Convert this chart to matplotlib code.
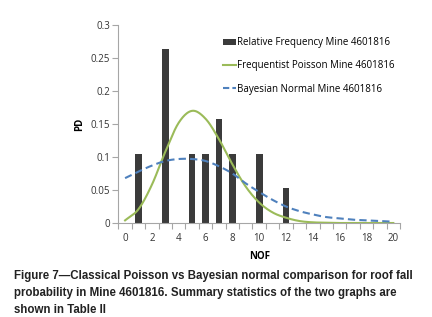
import numpy as np
import matplotlib
matplotlib.use('Agg')
import matplotlib.pyplot as plt
from matplotlib.patches import Patch
from matplotlib.lines import Line2D

# data
nof = list(range(0, 21))
rel_freq_x = [1, 3, 5, 6, 7, 8, 10, 12]
rel_freq = [0.105, 0.263, 0.105, 0.105, 0.158, 0.105, 0.105, 0.053]
poisson = [0.004, 0.021, 0.058, 0.108, 0.152, 0.170, 0.158, 0.127, 0.089, 0.055,
           0.031, 0.016, 0.008, 0.003, 0.001, 0.0005, 0.0, 0.0, 0.0, 0.0, 0.0]
bayes = [0.068, 0.078, 0.087, 0.094, 0.097, 0.097, 0.094, 0.086, 0.075, 0.060,
         0.047, 0.035, 0.025, 0.018, 0.013, 0.009, 0.007, 0.005, 0.004, 0.003, 0.002]
yticks = [0, 0.05, 0.1, 0.15, 0.2, 0.25, 0.3]
ytick_labels = ['0', '0.05', '0.1', '0.15', '0.2', '0.25', '0.3']
caption = ('Figure 7\u2014Classical Poisson vs Bayesian normal comparison for roof fall\n'
           'probability in Mine 4601816. Summary statistics of the two graphs are\n'
           'shown in Table II')


def smooth(x, y, n=20):
    # catmull-rom style smoothing like excel's smoothed line
    x = np.asarray(x, float)
    y = np.asarray(y, float)
    px = np.concatenate([[2*x[0]-x[1]], x, [2*x[-1]-x[-2]]])
    py = np.concatenate([[2*y[0]-y[1]], y, [2*y[-1]-y[-2]]])
    xs, ys = [], []
    t = np.linspace(0, 1, n, endpoint=False)
    for i in range(1, len(px)-2):
        for arr, out in ((px, xs), (py, ys)):
            p0, p1, p2, p3 = arr[i-1], arr[i], arr[i+1], arr[i+2]
            out.extend(0.5*((2*p1) + (-p0+p2)*t + (2*p0-5*p1+4*p2-p3)*t**2 + (-p0+3*p1-3*p2+p3)*t**3))
    xs.append(x[-1])
    ys.append(y[-1])
    return np.array(xs), np.clip(np.array(ys), 0, None)


tick_font = 'Open Sans'
green = '#9BBB59'
blue = '#4F81BD'
grey = '#A6A6A6'

fig = plt.figure(figsize=(4.32, 3.17), dpi=100)
ax = fig.add_axes([0.274, 0.2965, 0.652, 0.6245])

ax.bar(rel_freq_x, rel_freq, width=0.5, color='#3B3B3B', zorder=2)
sx, sy = smooth(nof, poisson)
ax.plot(sx, sy, color=green, lw=1.5, zorder=3)
bx, by = smooth(nof, bayes)
ax.plot(bx, by, color=blue, lw=1.5, dashes=(3.5, 2), zorder=3)

ax.set_xlim(-0.5, 20.5)
ax.set_ylim(0, 0.3)
ax.set_xticks(range(0, 21, 2))
ax.set_xticklabels([str(v) for v in range(0, 21, 2)], fontsize=7, family=tick_font, color='#333333')
ax.set_xticks(np.arange(-0.5, 21, 1), minor=True)
ax.tick_params(axis='x', which='major', length=0, pad=7)
ax.tick_params(axis='x', which='minor', length=4, color=grey, width=0.8)
ax.set_yticks(yticks)
ax.set_yticklabels(ytick_labels, fontsize=7, family=tick_font, color='#333333')
ax.tick_params(axis='y', length=4, color=grey, width=0.8, pad=2)

for s in ['top', 'right']:
    ax.spines[s].set_visible(False)
for s in ['left', 'bottom']:
    ax.spines[s].set_color(grey)
    ax.spines[s].set_linewidth(0.8)

ax.set_xlabel('NOF', fontsize=7, fontweight='bold', family=tick_font, labelpad=5)
ax.set_ylabel('PD', fontsize=7, fontweight='bold', family=tick_font, labelpad=4)

handles = [Patch(facecolor='#3B3B3B', edgecolor='none'),
           Line2D([], [], color=green, lw=1.5),
           Line2D([], [], color=blue, lw=1.5, dashes=(3, 1.5))]
labels = ['Relative Frequency Mine 4601816',
          'Frequentist Poisson Mine 4601816',
          'Bayesian Normal Mine 4601816']
fig.legend(handles, labels, loc='upper left', bbox_to_anchor=(0.495, 0.91),
           frameon=False, prop={'family': tick_font, 'size': 7},
           handlelength=1.4, handletextpad=0.1, labelspacing=1.25,
           handleheight=0.6)

fig.text(0.032, 0.147, caption, fontsize=8.3, fontweight='bold',
         family=['Liberation Sans', 'DejaVu Sans'],
         va='top', ha='left', linespacing=1.55, color='#222222')

fig.savefig('out.png', dpi=100)
